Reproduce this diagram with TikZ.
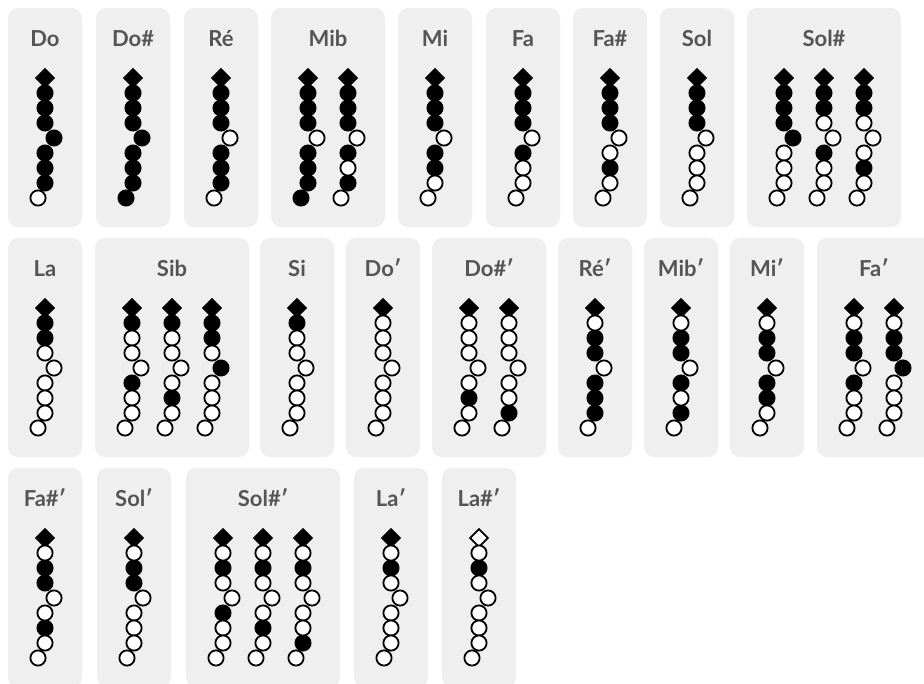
\documentclass[tikz,border=0pt]{standalone}
\usepackage{fontspec}
\setmainfont{Lato}
\definecolor{cardgray}{HTML}{EFEFEF}
\definecolor{labgray}{HTML}{555555}
\tikzset{
  cardbox/.style={fill=cardgray, rounded corners=10pt},
  lbl/.style={text=labgray, font=\fontsize{22}{26}\selectfont\bfseries, anchor=base, inner sep=0pt},
  filledhole/.style={fill=black, draw=black, line width=1.8pt},
  openhole/.style={fill=white, draw=black, line width=1.8pt},
}
\newcommand\cardbg[5]{%
  \pgfmathsetmacro\cw{74+40*(#3-1)}
  \fill[cardbox] (#1,#2) rectangle ++(\cw,219);
  \node[lbl] (#5) at ({#1+\cw/2},{#2+38.5}) {#4};
}
\newcommand\fing[3]{%
  \foreach \v [count=\i] in {#3} {
    \ifnum\i=1\relax
      \ifnum\v=1\relax \def\st{filledhole}\else \def\st{openhole}\fi
      \draw[\st] ({#1},{#2+70}) ++(0,-8.8) -- ++(8.8,8.8) -- ++(-8.8,8.8) -- ++(-8.8,-8.8) -- cycle;
    \fi
  }
  \foreach \v [count=\i] in {#3} {
    \ifnum\i>1\relax \ifnum\v=1\relax
      \pgfmathsetmacro\dx{(\i==5)*9-(\i==9)*7}
      \draw[filledhole] ({#1+\dx},{#2+70+15*(\i-1)}) circle[radius=7.6];
    \fi\fi
  }
  \foreach \v [count=\i] in {#3} {
    \ifnum\i>1\relax \ifnum\v=0\relax
      \pgfmathsetmacro\dx{(\i==5)*9-(\i==9)*7}
      \draw[openhole] ({#1+\dx},{#2+70+15*(\i-1)}) circle[radius=7.6];
    \fi\fi
  }
}
\begin{document}
\begin{tikzpicture}[x=1pt,y=-1pt]
\useasboundingbox (0,0) rectangle (924,683);
\clip (0,0) rectangle (924,683);
\fill[white] (0,0) rectangle (924,683);
% Row 1
\cardbg{8}{8}{1}{Do}{do}
\fing{45}{8}{1,1,1,1,1,1,1,1,0}
\cardbg{96}{8}{1}{Do\#}{dos}
\fing{133}{8}{1,1,1,1,1,1,1,1,1}
\cardbg{184}{8}{1}{Ré}{re}
\fing{221}{8}{1,1,1,1,0,1,1,1,0}
\cardbg{271}{8}{2}{Mib}{mib}
\fing{308}{8}{1,1,1,1,0,1,1,1,1}
\fing{348}{8}{1,1,1,1,0,1,0,1,0}
\cardbg{398}{8}{1}{Mi}{mi}
\fing{435}{8}{1,1,1,1,0,1,1,0,0}
\cardbg{486}{8}{1}{Fa}{fa}
\fing{523}{8}{1,1,1,1,0,1,0,0,0}
\cardbg{573}{8}{1}{Fa\#}{fas}
\fing{610}{8}{1,1,1,1,0,0,1,0,0}
\cardbg{660}{8}{1}{Sol}{sol}
\fing{697}{8}{1,1,1,1,0,0,0,0,0}
\cardbg{747}{8}{3}{Sol\#}{sols}
\fing{784}{8}{1,1,1,1,1,0,0,0,0}
\fing{824}{8}{1,1,1,0,0,1,0,0,0}
\fing{864}{8}{1,1,1,0,0,0,1,0,0}
% Row 2
\cardbg{8}{238}{1}{La}{la}
\fing{45}{238}{1,1,1,0,0,0,0,0,0}
\cardbg{95}{238}{3}{Sib}{sib}
\fing{132}{238}{1,1,0,0,0,1,0,0,0}
\fing{172}{238}{1,1,0,0,0,0,1,0,0}
\fing{212}{238}{1,1,1,0,1,0,0,0,0}
\cardbg{260}{238}{1}{Si}{si}
\fing{297}{238}{1,1,0,0,0,0,0,0,0}
\cardbg{346}{238}{1}{Do′}{do2}
\fing{383}{238}{1,0,0,0,0,0,0,0,0}
\cardbg{432}{238}{2}{Do\#′}{dos2}
\fing{469}{238}{1,0,0,0,0,0,1,0,0}
\fing{509}{238}{1,0,0,0,0,0,0,1,0}
\cardbg{558}{238}{1}{Ré′}{re2}
\fing{595}{238}{1,0,1,1,0,1,1,1,0}
\cardbg{644}{238}{1}{Mib′}{mib2}
\fing{681}{238}{1,0,1,1,0,1,0,1,0}
\cardbg{730}{238}{1}{Mi′}{mi2}
\fing{767}{238}{1,0,1,1,0,1,1,0,0}
\cardbg{817}{238}{2}{Fa′}{fa2}
\fing{854}{238}{1,0,1,1,0,1,0,0,0}
\fing{894}{238}{1,0,1,1,1,0,0,0,0}
% Row 3
\cardbg{8}{468}{1}{Fa\#′}{fas2}
\fing{45}{468}{1,0,1,1,0,0,1,0,0}
\cardbg{97}{468}{1}{Sol′}{sol2}
\fing{134}{468}{1,0,1,1,0,0,0,0,0}
\cardbg{186}{468}{3}{Sol\#′}{sols2}
\fing{223}{468}{1,0,1,0,0,1,0,0,0}
\fing{263}{468}{1,0,1,0,0,0,1,0,0}
\fing{303}{468}{1,0,1,0,0,0,0,1,0}
\cardbg{354}{468}{1}{La′}{la2}
\fing{391}{468}{1,0,1,0,0,0,0,0,0}
\cardbg{442}{468}{1}{La\#′}{las2}
\fing{479}{468}{0,0,1,0,0,0,0,0,0}
\end{tikzpicture}
\end{document}
